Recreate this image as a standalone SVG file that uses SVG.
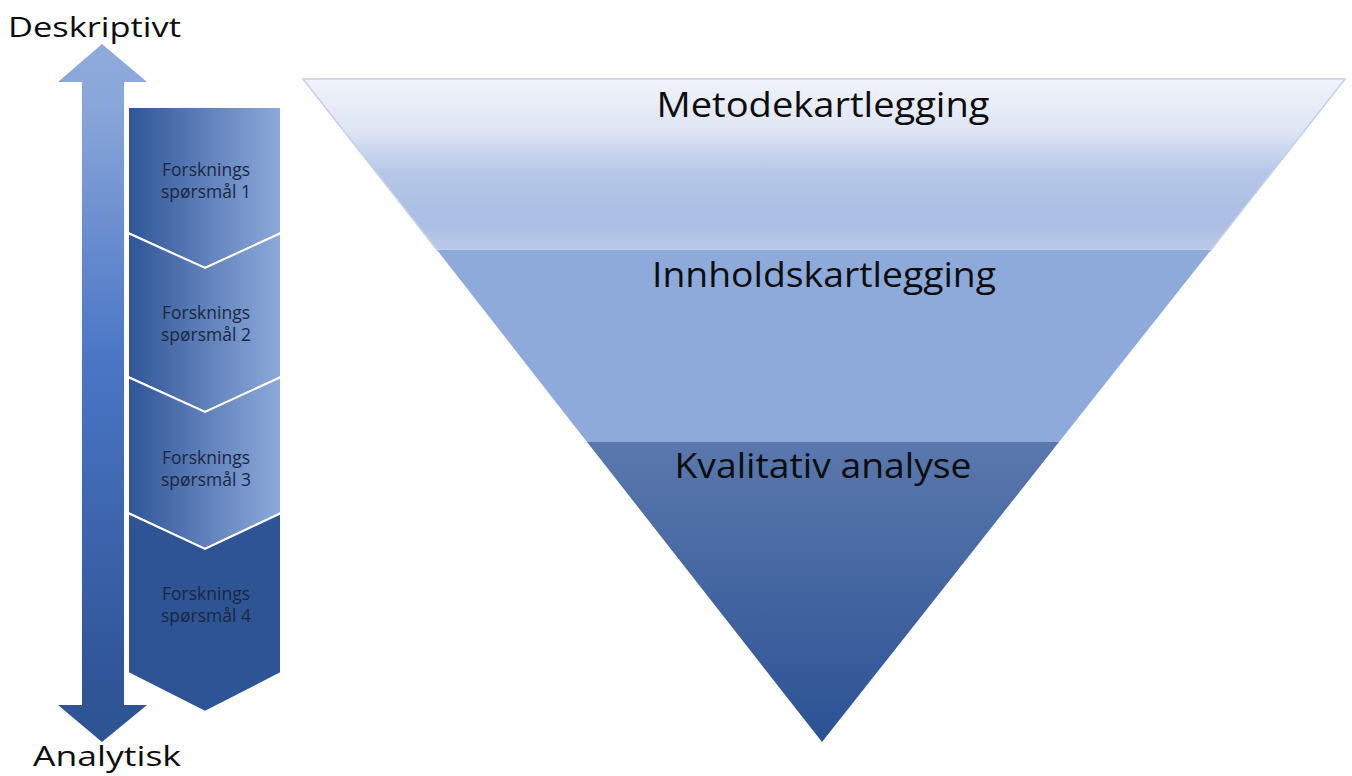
<svg xmlns="http://www.w3.org/2000/svg" width="1352" height="776" viewBox="0 0 1352 776">
  <style>
    .big { font-family: "Open Sans", "Liberation Sans", sans-serif; fill: #0d0d0d; }
    .ch { font-family: "Open Sans", "Liberation Sans", sans-serif; font-size: 17.5px; fill: #1b2740; text-anchor: middle; }
    .chev { stroke: #ffffff; stroke-width: 2; stroke-linejoin: miter; }
  </style>
  <defs>
    <linearGradient id="shaft" x1="0" y1="45" x2="0" y2="742" gradientUnits="userSpaceOnUse">
      <stop offset="0" stop-color="#8eaadb"/>
      <stop offset="0.08" stop-color="#8aa7da"/>
      <stop offset="0.45" stop-color="#4a76c5"/>
      <stop offset="0.92" stop-color="#2f5597"/>
      <stop offset="1" stop-color="#2e5494"/>
    </linearGradient>
    <linearGradient id="chevG" x1="0" y1="0" x2="1" y2="0">
      <stop offset="0" stop-color="#2f5597"/>
      <stop offset="1" stop-color="#8eaadb"/>
    </linearGradient>
    <linearGradient id="band1" x1="0" y1="79" x2="0" y2="250" gradientUnits="userSpaceOnUse">
      <stop offset="0" stop-color="#f0f3fa"/>
      <stop offset="0.3" stop-color="#dee5f4"/>
      <stop offset="0.55" stop-color="#b5c6e7"/>
      <stop offset="0.85" stop-color="#aabde3"/>
      <stop offset="0.95" stop-color="#b6c7e7"/>
      <stop offset="1" stop-color="#b9c9e8"/>
    </linearGradient>
    <linearGradient id="band3" x1="0" y1="442" x2="0" y2="742" gradientUnits="userSpaceOnUse">
      <stop offset="0" stop-color="#5a78ad"/>
      <stop offset="1" stop-color="#2c5294"/>
    </linearGradient>
  </defs>

  <g id="axis-arrow">
    <path d="M102,44 L147,82 L124,82 L124,705 L147,705 L102,742 L58,705 L82,705 L82,82 L58,82 Z" fill="url(#shaft)"/>
  </g>
  <g id="label-deskriptivt">
    <text class="big" x="8" y="37" font-size="28" textLength="173" lengthAdjust="spacingAndGlyphs">Deskriptivt</text>
  </g>
  <g id="label-analytisk">
    <text class="big" x="33" y="766" font-size="28" textLength="148" lengthAdjust="spacingAndGlyphs">Analytisk</text>
  </g>

  <g id="chevron-1">
    <polygon class="chev" points="128,107 281,107 281,233 205,268 128,233" fill="url(#chevG)"/>
    <text class="ch" x="206" y="176">Forsknings</text>
    <text class="ch" x="206" y="198">spørsmål 1</text>
  </g>
  <g id="chevron-2">
    <polygon class="chev" points="128,233 205,268 281,233 281,377 205,412 128,377" fill="url(#chevG)"/>
    <text class="ch" x="206" y="319">Forsknings</text>
    <text class="ch" x="206" y="341">spørsmål 2</text>
  </g>
  <g id="chevron-3">
    <polygon class="chev" points="128,377 205,412 281,377 281,513 205,549 128,513" fill="url(#chevG)"/>
    <text class="ch" x="206" y="464">Forsknings</text>
    <text class="ch" x="206" y="486">spørsmål 3</text>
  </g>
  <g id="chevron-4">
    <polygon class="chev" points="128,513 205,549 281,513 281,673 205,712 128,673" fill="#2e5495"/>
    <text class="ch" x="206" y="600">Forsknings</text>
    <text class="ch" x="206" y="622">spørsmål 4</text>
  </g>

  <g id="band-metodekartlegging">
    <polygon points="303,79 1345,79 1211,250 437,250" fill="url(#band1)" stroke="#c5d1e9" stroke-width="1.5"/>
    <text class="big" x="823" y="117" font-size="34" text-anchor="middle" textLength="333" lengthAdjust="spacingAndGlyphs">Metodekartlegging</text>
  </g>
  <g id="band-innholdskartlegging">
    <polygon points="437,250 1211,250 1059,442 587,442" fill="#8eaadb"/>
    <text class="big" x="824" y="287" font-size="34" text-anchor="middle" textLength="344" lengthAdjust="spacingAndGlyphs">Innholdskartlegging</text>
  </g>
  <g id="band-kvalitativ">
    <polygon points="587,442 1059,442 822,742" fill="url(#band3)"/>
    <text class="big" x="823" y="478" font-size="34" text-anchor="middle" textLength="297" lengthAdjust="spacingAndGlyphs">Kvalitativ analyse</text>
  </g>
  <g id="connectors"/>
</svg>
